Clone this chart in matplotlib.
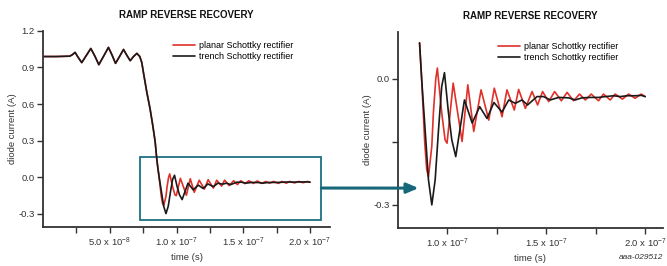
import numpy as np
import matplotlib
matplotlib.use("Agg")
import matplotlib.pyplot as plt
from matplotlib.patches import Rectangle, ConnectionPatch

plt.rcParams['font.family'] = ['Liberation Sans', 'DejaVu Sans']
plt.rcParams['mathtext.fontset'] = 'custom'
plt.rcParams['mathtext.rm'] = 'Liberation Sans'
plt.rcParams['mathtext.it'] = 'Liberation Sans:italic'
plt.rcParams['lines.solid_joinstyle'] = 'round'
plt.rcParams['lines.solid_capstyle'] = 'round'

# time in ns, current in A
t_common = [0, 10, 20, 22, 24, 26.5, 29, 32.5, 35.8, 39, 41.8, 45.5, 49, 51.8,
            54.3, 57.3, 60.3, 62.8, 65.3, 67.8, 70.3, 72.5, 74, 75.2, 77.7,
            80.2, 82.2, 84, 85.2, 85.9, 87]
i_common = [0.99, 0.99, 0.993, 1.005, 1.024, 0.98, 0.94, 1.0, 1.056, 0.99,
            0.923, 0.995, 1.065, 1.0, 0.934, 0.99, 1.048, 1.0, 0.956, 0.99,
            1.016, 0.99, 0.94, 0.86, 0.70, 0.56, 0.425, 0.29, 0.15, 0.086,
            -0.003]

t_planar_tail = [88.5, 89.5, 90.4, 92.1, 92.9, 94.1, 94.9, 97.1, 98.8, 99.8,
                 102.9, 107.4, 110.3, 113.3, 117, 120.9, 123.7, 127.6, 130.1,
                 133.8, 136, 139.4, 142.8, 145.6, 148.1, 151.2, 154.2, 157.6,
                 160.5, 163.8, 166.8, 169.7, 172.7, 176.4, 178.9, 182.3, 184.8,
                 188.5, 191.6, 194.9, 198, 200]
i_planar_tail = [-0.15, -0.215, -0.233, -0.16, -0.08, 0.0, 0.026, -0.08,
                 -0.145, -0.153, -0.01, -0.149, -0.014, -0.125, -0.026, -0.098,
                 -0.022, -0.09, -0.026, -0.074, -0.025, -0.07, -0.03, -0.062,
                 -0.03, -0.054, -0.03, -0.052, -0.032, -0.052, -0.036, -0.05,
                 -0.036, -0.052, -0.036, -0.05, -0.036, -0.048, -0.036, -0.046,
                 -0.036, -0.042]

t_trench_tail = [88.7, 90.4, 92.1, 93.8, 95.5, 97.1, 98.5, 100.5, 102.2, 104.2,
                 108.6, 112.5, 116.3, 120, 123.5, 127.6, 131, 134.3, 137.7,
                 140.5, 145.3, 148.6, 152, 156.2, 161.3, 164.6, 168, 172.2,
                 176.4, 179.8, 184, 187.4, 190.7, 195, 198, 200]
i_trench_tail = [-0.12, -0.24, -0.30, -0.24, -0.12, -0.018, 0.015, -0.08,
                 -0.145, -0.185, -0.05, -0.105, -0.066, -0.094, -0.056, -0.079,
                 -0.05, -0.058, -0.05, -0.062, -0.042, -0.042, -0.05, -0.044,
                 -0.045, -0.05, -0.045, -0.044, -0.044, -0.042, -0.040, -0.042,
                 -0.040, -0.040, -0.039, -0.042]

t_planar = np.array(t_common + t_planar_tail) * 1e-9
i_planar = np.array(i_common + i_planar_tail)
t_trench = np.array(t_common + t_trench_tail) * 1e-9
i_trench = np.array(i_common + i_trench_tail)

labels = ['planar Schottky rectifier', 'trench Schottky rectifier']
colors = ['#e0302a', '#1a1a1a']
teal = '#1d6f82'
ink = '#333333'


def fmt_tick(v):
    m, e = f"{v:.1e}".split('e')
    return f"{m} x 10$^{{{int(e)}}}$"


def style_axes(ax):
    for s in ['top', 'right']:
        ax.spines[s].set_visible(False)
    for s in ['left', 'bottom']:
        ax.spines[s].set_linewidth(1.3)
        ax.spines[s].set_color(ink)
    ax.tick_params(which='both', direction='out', length=4, width=1,
                   color=ink, labelcolor=ink, labelsize=6.8, pad=2)
    ax.set_xlabel('time (s)', fontsize=6.8, color=ink, labelpad=3)
    ax.set_ylabel('diode current (A)', fontsize=6.8, color=ink, labelpad=1)
    ax.set_title('RAMP REVERSE RECOVERY', fontsize=7, fontweight='bold',
                 color='#111111', pad=9)


fig = plt.figure(figsize=(6.67, 2.66), dpi=100)
ax1 = fig.add_axes([0.0645, 0.1466, 0.4303, 0.737])
ax2 = fig.add_axes([0.5967, 0.1429, 0.3973, 0.737])

# left: full waveform
ax1.plot(t_planar, i_planar, color=colors[0], lw=1.2, label=labels[0])
ax1.plot(t_trench, i_trench, color=colors[1], lw=1.2, label=labels[1])
ax1.set_xlim(0, 2.15e-7)
ax1.set_ylim(-0.41, 1.2)
ax1.set_xticks([5e-8, 1e-7, 1.5e-7, 2e-7])
ax1.set_xticklabels([fmt_tick(v) for v in [5e-8, 1e-7, 1.5e-7, 2e-7]])
ax1.set_xticks([2.5e-8, 7.5e-8, 1.25e-7, 1.75e-7], minor=True)
ax1.set_yticks([-0.3, 0.0, 0.3, 0.6, 0.9, 1.2])
ax1.set_yticklabels(['-0.3', '0.0', '0.3', '0.6', '0.9', '1.2'])
style_axes(ax1)
ax1.legend(loc='upper left', bbox_to_anchor=(0.453, 0.95), frameon=False,
           fontsize=6.5, handlelength=2.4, handletextpad=0.5,
           labelspacing=0.25, borderpad=0, borderaxespad=0)

# zoom box on left
ax1.add_patch(Rectangle((7.28e-8, -0.351), 2.085e-7 - 7.28e-8, 0.517,
                        fill=False, edgecolor=teal, lw=1.3, clip_on=False))

# right: zoomed view
mp = t_planar >= 85.9e-9
mt = t_trench >= 85.9e-9
ax2.plot(t_planar[mp], i_planar[mp], color=colors[0], lw=1.2, label=labels[0])
ax2.plot(t_trench[mt], i_trench[mt], color=colors[1], lw=1.2, label=labels[1])
ax2.set_xlim(7.5e-8, 2.09e-7)
ax2.set_ylim(-0.355, 0.112)
ax2.set_xticks([1e-7, 1.5e-7, 2e-7])
ax2.set_xticklabels([fmt_tick(v) for v in [1e-7, 1.5e-7, 2e-7]])
ax2.set_xticks([1.25e-7, 1.75e-7], minor=True)
ax2.set_yticks([-0.3, 0.0])
ax2.set_yticklabels(['-0.3', '0.0'])
ax2.set_yticks([-0.15], minor=True)
style_axes(ax2)
ax2.legend(loc='upper left', bbox_to_anchor=(0.377, 0.95), frameon=False,
           fontsize=6.5, handlelength=2.4, handletextpad=0.5,
           labelspacing=0.25, borderpad=0, borderaxespad=0)

# arrow from zoom box to right panel
arrow = ConnectionPatch(xyA=(2.085e-7, -0.09), coordsA=ax1.transData,
                        xyB=(85.4e-9, -0.26), coordsB=ax2.transData,
                        arrowstyle='-|>,head_length=0.7,head_width=0.3',
                        color='#17677a', lw=2.2, mutation_scale=10)
fig.add_artist(arrow)

fig.text(0.995, 0.02, 'aaa-029512', fontsize=6, style='italic',
         color='#333333', ha='right', va='bottom')

fig.savefig('out.png', dpi=100)
